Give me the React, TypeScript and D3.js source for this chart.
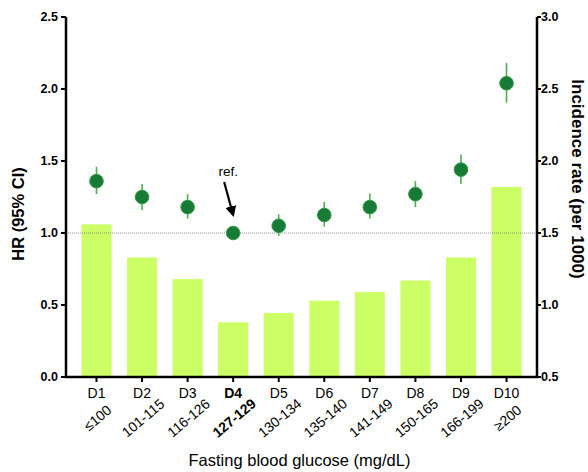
import React from 'react';
import * as d3 from 'd3';

// deciles of fasting blood glucose
const deciles = ['D1', 'D2', 'D3', 'D4', 'D5', 'D6', 'D7', 'D8', 'D9', 'D10'];
const ranges = ['≤100', '101-115', '116-126', '127-129', '130-134', '135-140', '141-149', '150-165', '166-199', '≥200'];
const refIndex = 3;

// incidence rate per 1000 (bars, right axis)
const incidence = [1.56, 1.33, 1.18, 0.88, 0.945, 1.03, 1.09, 1.17, 1.33, 1.82];

// hazard ratios with 95% CI (points, left axis)
const hr = [1.36, 1.25, 1.18, 1.0, 1.05, 1.125, 1.18, 1.27, 1.44, 2.04];
const hrLow = [1.27, 1.16, 1.1, 1.0, 0.98, 1.045, 1.1, 1.18, 1.34, 1.905];
const hrHigh = [1.46, 1.34, 1.27, 1.0, 1.13, 1.215, 1.275, 1.36, 1.545, 2.18];

const leftTicks = [0, 0.5, 1.0, 1.5, 2.0, 2.5];
const rightTicks = [0.5, 1.0, 1.5, 2.0, 2.5, 3.0];

const font = 'Liberation Sans, Arial, Helvetica, sans-serif';

const App = () => {
  const width = 588;
  const height = 472;
  const margin = { top: 17, right: 51, bottom: 95, left: 66 };
  const x0 = margin.left;
  const x1 = width - margin.right;
  const yBottom = height - margin.bottom;

  const x = d3.scaleBand<string>()
    .domain(deciles)
    .range([x0, x1])
    .paddingInner(0.34)
    .paddingOuter(0.339);

  const yLeft = d3.scaleLinear().domain([0, 2.5]).range([yBottom, margin.top]);
  const yRight = d3.scaleLinear().domain([0.5, 3.0]).range([yBottom, margin.top]);

  const cx = (d: string) => (x(d) as number) + x.bandwidth() / 2;

  const arrowX = cx(deciles[refIndex]);

  return (
    <svg width={width} height={height} style={{ position: 'absolute', left: 0, top: 0 }} fontFamily={font}>
      <defs>
        <marker id="arrowhead" viewBox="0 0 10 10" refX="8" refY="5" markerWidth="5" markerHeight="5" orient="auto">
          <path d="M0,0 L10,5 L0,10 z" fill="#000" />
        </marker>
      </defs>

      {/* bars: incidence rate */}
      {incidence.map((v, i) => (
        <rect
          key={'bar' + i}
          x={x(deciles[i])}
          y={yRight(v)}
          width={x.bandwidth()}
          height={yBottom - yRight(v)}
          fill="#ccff66"
        />
      ))}

      {/* reference line at HR = 1 */}
      <line x1={x0} x2={x1} y1={yLeft(1)} y2={yLeft(1)} stroke="#777" strokeWidth={0.8} strokeDasharray="1,1" />

      {/* HR points with CI */}
      {hr.map((v, i) => (
        <g key={'pt' + i}>
          <line x1={cx(deciles[i])} x2={cx(deciles[i])} y1={yLeft(hrLow[i])} y2={yLeft(hrHigh[i])} stroke="#4cb04c" strokeWidth={1.6} />
          <circle cx={cx(deciles[i])} cy={yLeft(v)} r={6.8} fill="#177a36" stroke="#2e9a3e" strokeWidth={1} />
        </g>
      ))}

      {/* ref. annotation */}
      <text x={arrowX - 5} y={176} fontSize={13.5} textAnchor="middle">ref.</text>
      <line x1={arrowX - 9} y1={182} x2={arrowX} y2={215} stroke="#000" strokeWidth={2.2} markerEnd="url(#arrowhead)" />

      {/* left axis */}
      <line x1={x0} x2={x0} y1={margin.top} y2={yBottom + 1} stroke="#000" strokeWidth={2.5} />
      {leftTicks.map(t => (
        <g key={'lt' + t}>
          <line x1={x0 - 5} x2={x0} y1={yLeft(t)} y2={yLeft(t)} stroke="#000" strokeWidth={2} />
          <text x={x0 - 8} y={yLeft(t)} dy="0.35em" textAnchor="end" fontSize={12.5} fontWeight="bold">{t.toFixed(1)}</text>
        </g>
      ))}

      {/* right axis */}
      <line x1={x1} x2={x1} y1={margin.top} y2={yBottom + 1} stroke="#000" strokeWidth={2.5} />
      {rightTicks.map(t => (
        <g key={'rt' + t}>
          <line x1={x1} x2={x1 + 4} y1={yRight(t)} y2={yRight(t)} stroke="#000" strokeWidth={2} />
          <text x={x1 + 4} y={yRight(t)} dy="0.35em" textAnchor="start" fontSize={12.5} fontWeight="bold">{t.toFixed(1)}</text>
        </g>
      ))}

      {/* bottom axis */}
      <line x1={x0 - 1} x2={x1 + 1} y1={yBottom} y2={yBottom} stroke="#000" strokeWidth={2.5} />
      {deciles.map((d, i) => (
        <g key={'bt' + d}>
          <line x1={cx(d)} x2={cx(d)} y1={yBottom} y2={yBottom + 5} stroke="#000" strokeWidth={2} />
          <text x={cx(d)} y={yBottom + 21} textAnchor="middle" fontSize={14} fontWeight={i === refIndex ? 'bold' : 'normal'}>{d}</text>
          <text
            transform={`translate(${cx(d) + 1},${yBottom + 41}) rotate(-40)`}
            textAnchor="middle"
            dy="0.35em"
            fontSize={14}
            fontWeight={i === refIndex ? 'bold' : 'normal'}
          >{ranges[i]}</text>
        </g>
      ))}

      {/* axis titles */}
      <text transform={`translate(24,${(margin.top + yBottom) / 2 + 17}) rotate(-90)`} textAnchor="middle" fontSize={16.5} fontWeight="bold">HR (95% CI)</text>
      <text transform={`translate(572,${(margin.top + yBottom) / 2 - 18}) rotate(90)`} textAnchor="middle" fontSize={17} fontWeight="bold">Incidence rate (per 1000)</text>
      <text x={(x0 + x1) / 2 - 2} y={466} textAnchor="middle" fontSize={16.5}>Fasting blood glucose (mg/dL)</text>
    </svg>
  );
};

export default App;
